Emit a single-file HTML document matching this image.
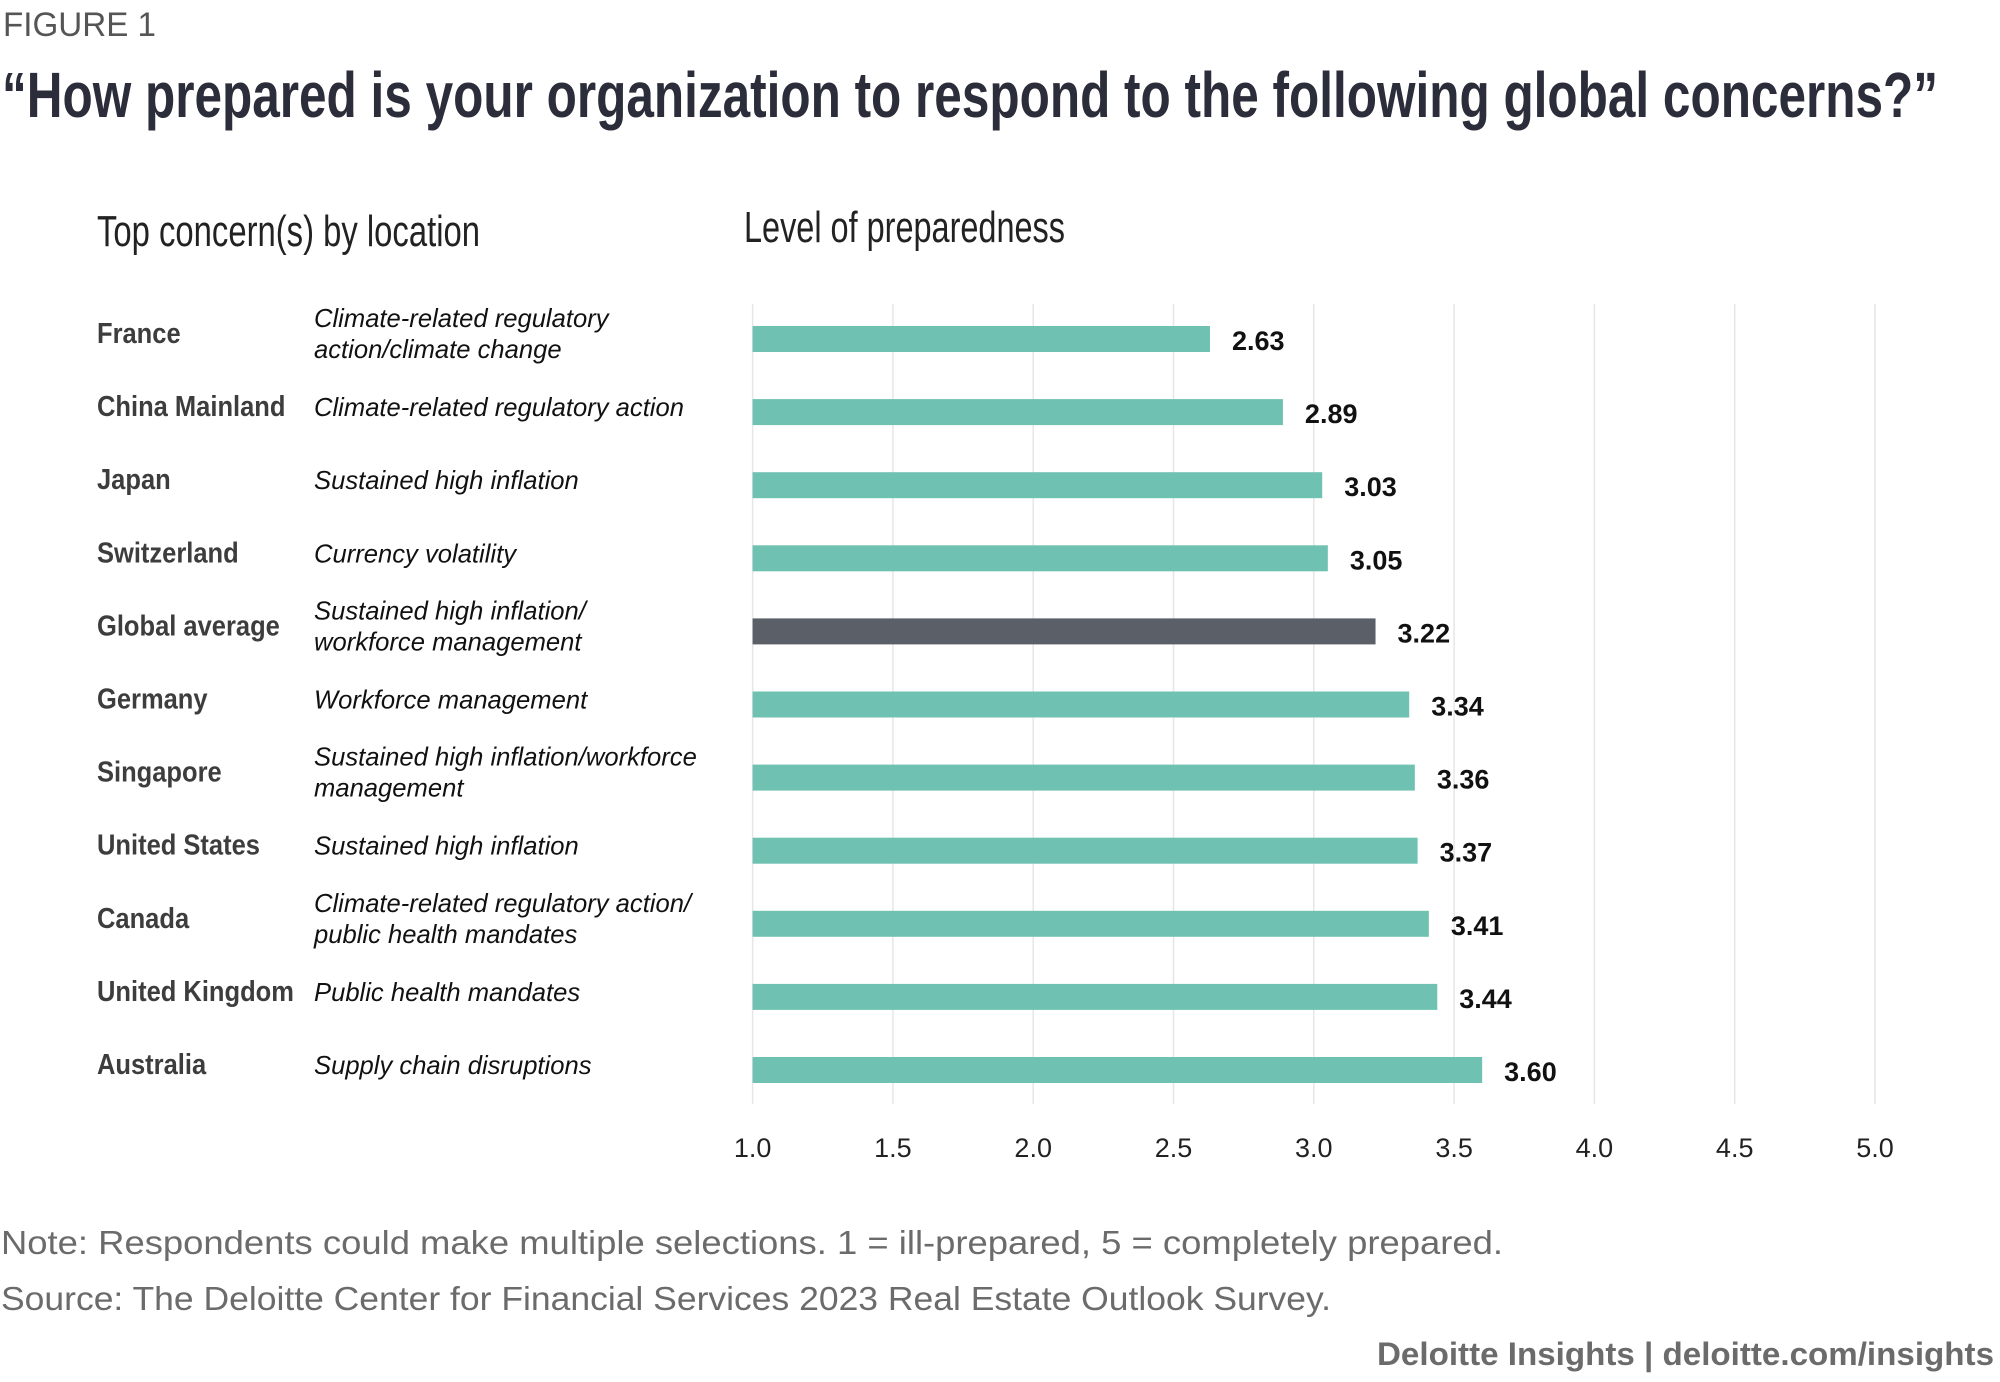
<!DOCTYPE html>
<html><head><meta charset="utf-8"><style>
html,body{margin:0;padding:0;background:#fff;}
svg{display:block;font-family:"Liberation Sans",sans-serif;}
</style></head><body>
<svg id="chart" width="2000" height="1382" viewBox="0 0 2000 1382">
<text x="3" y="36" font-size="34" fill="#555" textLength="153" lengthAdjust="spacingAndGlyphs">FIGURE 1</text>
<text x="2" y="117" font-size="64" font-weight="bold" fill="#2b2d3a" textLength="1936" lengthAdjust="spacingAndGlyphs">“How prepared is your organization to respond to the following global concerns?”</text>
<text x="97" y="246" font-size="44" fill="#222" textLength="383" lengthAdjust="spacingAndGlyphs">Top concern(s) by location</text>
<text x="744" y="242" font-size="44" fill="#222" textLength="321" lengthAdjust="spacingAndGlyphs">Level of preparedness</text>
<g id="grid"></g>
<g id="bars"></g>
<g id="countryLabels" transform="translate(97,0) scale(0.88,1)"></g>
<g id="concernLabels" transform="translate(314,0) scale(0.985,1)"></g>
<g id="ticks"></g>
<text x="1" y="1254" font-size="33" fill="#6b6b6b" textLength="1502" lengthAdjust="spacingAndGlyphs">Note: Respondents could make multiple selections. 1 = ill-prepared, 5 = completely prepared.</text>
<text x="1" y="1310" font-size="33" fill="#6b6b6b" textLength="1330" lengthAdjust="spacingAndGlyphs">Source: The Deloitte Center for Financial Services 2023 Real Estate Outlook Survey.</text>
<text x="1994" y="1365" text-anchor="end" font-size="32" font-weight="bold" fill="#6b6b6b" textLength="617" lengthAdjust="spacingAndGlyphs">Deloitte Insights | deloitte.com/insights</text>
</svg>
<script>
const countries = ["France","China Mainland","Japan","Switzerland","Global average","Germany","Singapore","United States","Canada","United Kingdom","Australia"];
const concerns = [["Climate-related regulatory","action/climate change"],["Climate-related regulatory action"],["Sustained high inflation"],["Currency volatility"],["Sustained high inflation/","workforce management"],["Workforce management"],["Sustained high inflation/workforce","management"],["Sustained high inflation"],["Climate-related regulatory action/","public health mandates"],["Public health mandates"],["Supply chain disruptions"]];
const values = [2.63,2.89,3.03,3.05,3.22,3.34,3.36,3.37,3.41,3.44,3.60];
const valueLabels = ["2.63","2.89","3.03","3.05","3.22","3.34","3.36","3.37","3.41","3.44","3.60"];
const tickValues = [1.0,1.5,2.0,2.5,3.0,3.5,4.0,4.5,5.0];
const tickLabels = ["1.0","1.5","2.0","2.5","3.0","3.5","4.0","4.5","5.0"];

const NS="http://www.w3.org/2000/svg";
const x0=752.6, x1=1875, vmin=1, vmax=5;
function xs(v){return x0+(v-vmin)/(vmax-vmin)*(x1-x0);}
const yTop=339, step=73.1, barH=26;
function ys(i){return yTop+i*step;}
function mk(tag,attrs,parent,txt){const e=document.createElementNS(NS,tag);for(const k in attrs)e.setAttribute(k,attrs[k]);if(txt!==undefined)e.textContent=txt;parent.appendChild(e);return e;}

const grid=document.getElementById('grid'), bars=document.getElementById('bars'), cl=document.getElementById('countryLabels'), co=document.getElementById('concernLabels'), ticks=document.getElementById('ticks');
tickValues.forEach((t,i)=>{
  const l=mk('line',{x1:xs(t),x2:xs(t),y1:304,y2:1104,stroke:'#e6e6e6','stroke-width':1.5},grid);
  
  
  const tx=mk('text',{x:xs(t),y:1157,'text-anchor':'middle','font-size':27,fill:'#222'},ticks,tickLabels[i]);
  
  
});
values.forEach((v,i)=>{
  const y=ys(i);
  const r=mk('rect',{x:xs(vmin),y:y-barH/2,width:xs(v)-xs(vmin),height:barH,fill:countries[i]==="Global average"?'#5b6068':'#6fc2b2'},bars);
  
  
  const vl=mk('text',{x:xs(v)+22,y:y+11,'font-size':27,'font-weight':'bold',fill:'#111'},bars,valueLabels[i]);
  
  
  const c=mk('text',{x:0,y:y+4,'font-size':29,'font-weight':'bold',fill:'#3d3d3d'},cl,countries[i]);
  
  
  const lines=concerns[i];
  lines.forEach((ln,j)=>{
    const yy = lines.length===1 ? y+4 : y-12+j*31;
    const t=mk('text',{x:0,y:yy,'font-size':26,'font-style':'italic',fill:'#111'},co,ln);
    
    
  });
});
</script>
</body></html>
